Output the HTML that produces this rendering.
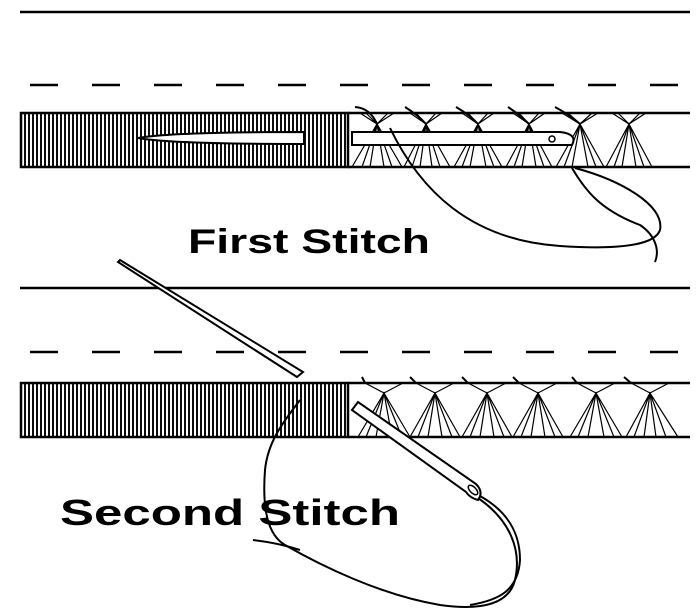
<!DOCTYPE html>
<html><head><style>html,body{margin:0;padding:0;background:#fff}svg{display:block}</style></head>
<body>
<svg width="700" height="612" viewBox="0 0 700 612" xmlns="http://www.w3.org/2000/svg">
<defs>
<pattern id="h" width="4" height="10" patternUnits="userSpaceOnUse">
<rect width="4" height="10" fill="#fff"/><line x1="1" y1="0" x2="1" y2="10" stroke="#000" stroke-width="1.9"/>
</pattern>
</defs>
<g stroke="#000" fill="none" stroke-width="2.5">
<line x1="20" y1="12" x2="690" y2="12"/>
<line x1="20" y1="288" x2="690" y2="288"/>
<line x1="30" y1="85" x2="690" y2="85" stroke-dasharray="28 34"/>
<line x1="30" y1="352" x2="690" y2="352" stroke-dasharray="28 34"/>
</g>
<!-- band 1 -->
<rect x="21" y="113" width="327" height="54" fill="url(#h)" stroke="#000" stroke-width="2.5"/>
<line x1="348" y1="113" x2="690" y2="113" stroke="#000" stroke-width="2.5"/>
<line x1="348" y1="167" x2="690" y2="167" stroke="#000" stroke-width="2.5"/>
<path d="M138 138 Q170 132 304 132 L304 144 Q170 144 138 138Z" fill="#fff" stroke="#000" stroke-width="2"/>
<g stroke="#000" stroke-width="1.2" fill="none">
<path d="M360 113 L377 124 L394 113 M366 113 L377 124 L388 113 M410 113 L426 124 L442 113 M416 113 L426 124 L436 113 M462 113 L478 124 L494 113 M468 113 L478 124 L488 113 M513 113 L529 124 L545 113 M519 113 L529 124 L539 113 M562 113 L580 124 L598 113 M568 113 L580 124 L592 113 M612 113 L629 124 L646 113 M618 113 L629 124 L640 113"/>
<path d="M352 167 L377 124 L402 167 M362 167 L377 124 L392 167 M370 167 L377 124 L384 167 M404 167 L426 124 L450 167 M412 167 L426 124 L440 167 M420 167 L426 124 L432 167 M454 167 L478 124 L502 167 M462 167 L478 124 L494 167 M470 167 L478 124 L486 167 M506 167 L529 124 L552 167 M514 167 L529 124 L544 167 M522 167 L529 124 L536 167 M556 167 L580 124 L604 167 M564 167 L580 124 L596 167 M572 167 L580 124 L588 167 M606 167 L629 124 L652 167 M614 167 L629 124 L644 167 M622 167 L629 124 L636 167"/>
</g>
<g stroke="#000" stroke-width="2" fill="none">
<path d="M355 107 Q370 108 377 124 M405 107 Q418 115 426 124 M456 107 Q470 115 478 124 M508 107 Q520 115 529 124 M555 107 Q570 115 580 124"/>
</g>
<path d="M352 132 L560 132 Q578 134 572 145 L352 145Z" fill="#fff" stroke="#000" stroke-width="2"/>
<circle cx="552" cy="139" r="3" fill="none" stroke="#000" stroke-width="1.5"/>
<g stroke="#000" stroke-width="2" fill="none">
<path d="M390 128 C420 190 470 240 560 246 C620 250 655 245 660 230 C665 205 620 180 575 168"/>
<path d="M572 168 C585 190 600 210 640 225 C655 235 660 250 655 262"/>
</g>
<!-- band 2 -->
<rect x="21" y="383" width="327" height="54" fill="url(#h)" stroke="#000" stroke-width="2.5"/>
<line x1="348" y1="383" x2="690" y2="383" stroke="#000" stroke-width="2.5"/>
<line x1="348" y1="437" x2="690" y2="437" stroke="#000" stroke-width="2.5"/>
<g stroke="#000" stroke-width="1.2" fill="none">
<path d="M365 383 L384 393 L403 383 M416 383 L435 393 L454 383 M468 383 L487 393 L506 383 M519 383 L538 393 L557 383 M577 383 L596 393 L615 383 M631 383 L650 393 L669 383"/>
<path d="M358 437 L384 393 L410 437 M366 437 L384 393 L402 437 M376 437 L384 393 L392 437 M410 437 L435 393 L460 437 M418 437 L435 393 L452 437 M428 437 L435 393 L442 437 M462 437 L487 393 L512 437 M470 437 L487 393 L504 437 M480 437 L487 393 L494 437 M513 437 L538 393 L563 437 M521 437 L538 393 L555 437 M531 437 L538 393 L545 437 M570 437 L596 393 L622 437 M578 437 L596 393 L614 437 M588 437 L596 393 L604 437 M626 437 L650 393 L678 437 M634 437 L650 393 L666 437 M644 437 L650 393 L656 437"/>
</g>
<g stroke="#000" stroke-width="2" fill="none">
<path d="M362 377 L365 383 M410 377 L416 383 M462 377 L468 383 M513 377 L519 383 M572 377 L577 383 M624 377 L631 383"/>
</g>
<path d="M120 260 L303 372 L297 377 L118 262Z" fill="#fff" stroke="#000" stroke-width="2"/>
<path d="M352 410 L358 402 L476 484 Q484 492 478 500 Q470 498 466 492Z" fill="#fff" stroke="#000" stroke-width="2"/>
<ellipse cx="473" cy="490" rx="3" ry="6" transform="rotate(-45 473 490)" fill="none" stroke="#000" stroke-width="1.5"/>
<g stroke="#000" stroke-width="2" fill="none">
<path d="M300 400 C285 420 268 440 265 470 C262 510 268 535 285 545 C320 565 380 595 440 605 C490 612 510 600 515 580 C522 550 510 520 478 498"/>
<path d="M480 496 C505 510 520 530 520 560 C518 590 500 600 470 605"/>
<path d="M253 540 C270 542 285 545 300 550"/>
</g>
<g font-family="Liberation Sans, sans-serif" font-weight="bold" fill="#000">
<text x="188" y="253" font-size="34" textLength="242" lengthAdjust="spacingAndGlyphs">First Stitch</text>
<text x="60" y="525" font-size="36" textLength="340" lengthAdjust="spacingAndGlyphs">Second Stitch</text>
</g>
</svg>
</body></html>
